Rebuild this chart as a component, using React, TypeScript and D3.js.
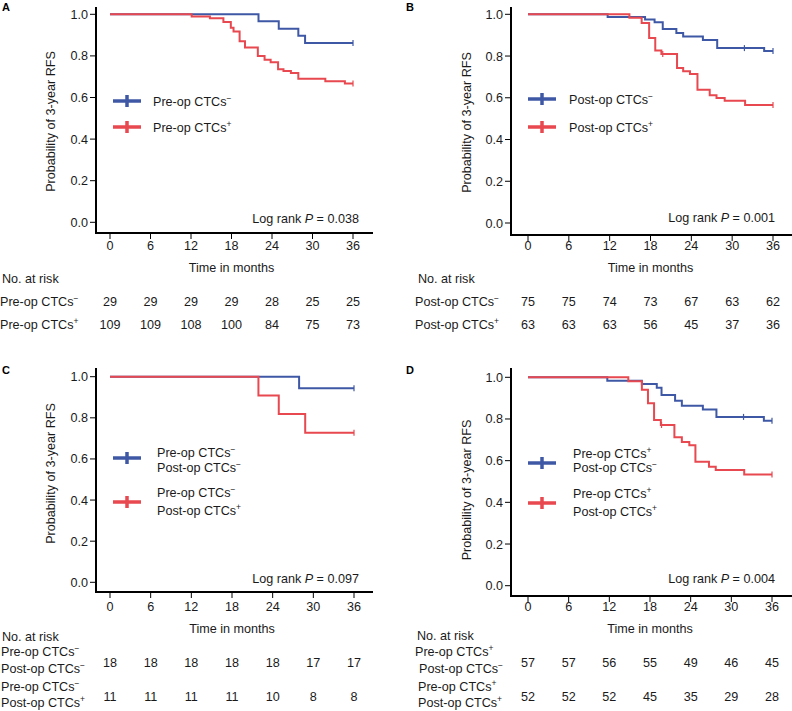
import React from "react";
import * as d3 from "d3";

const months = [0, 6, 12, 18, 24, 30, 36];
const yTicks = [0, 0.2, 0.4, 0.6, 0.8, 1.0];

// Panel A
const aBlueT = [22, 25, 27.9, 28.9];
const aBlueS = [0.966, 0.931, 0.897, 0.862];
const aBlueC = [36];
const aRedT = [12.1, 14.8, 16.8, 17.9, 18.3, 19.2, 20.0, 21.9, 22.9, 23.8, 24.9, 25.7, 26.8, 27.9, 31.9, 34.8];
const aRedS = [0.99, 0.981, 0.963, 0.935, 0.917, 0.87, 0.84, 0.8, 0.782, 0.77, 0.736, 0.728, 0.718, 0.69, 0.678, 0.667];
const aRedC = [36];
const aRiskBlue = [29, 29, 29, 29, 28, 25, 25];
const aRiskRed = [109, 109, 108, 100, 84, 75, 73];

// Panel B
const bBlueT = [11.7, 17.2, 18.6, 19.8, 21.8, 22.8, 25.7, 27.8, 34.7];
const bBlueS = [0.987, 0.975, 0.962, 0.93, 0.91, 0.894, 0.877, 0.838, 0.824];
const bBlueC = [31.8, 36];
const bRedT = [14.9, 16.7, 17.8, 18.7, 19.6, 21.9, 22.8, 23.8, 24.9, 26.7, 27.7, 28.9, 31.9];
const bRedS = [0.984, 0.958, 0.886, 0.826, 0.81, 0.743, 0.727, 0.714, 0.639, 0.612, 0.599, 0.586, 0.565];
const bRedC = [19.8, 36];
const bRiskBlue = [75, 75, 74, 73, 67, 63, 62];
const bRiskRed = [63, 63, 63, 56, 45, 37, 36];

// Panel C
const cBlueT = [27.9];
const cBlueS = [0.944];
const cBlueC = [36];
const cRedT = [21.9, 24.9, 28.8];
const cRedS = [0.909, 0.818, 0.727];
const cRedC = [36];
const cRiskBlue = [18, 18, 18, 18, 18, 17, 17];
const cRiskRed = [11, 11, 11, 11, 10, 8, 8];

// Panel D
const dBlueT = [11.7, 16.8, 19.0, 19.7, 21.7, 22.7, 25.8, 27.8, 34.8];
const dBlueS = [0.984, 0.968, 0.95, 0.915, 0.888, 0.864, 0.846, 0.81, 0.791];
const dBlueC = [31.8, 36];
const dRedT = [14.8, 16.8, 17.7, 18.6, 19.6, 21.6, 22.7, 23.8, 24.7, 26.7, 27.7, 31.9];
const dRedS = [0.981, 0.94, 0.875, 0.795, 0.771, 0.712, 0.69, 0.674, 0.595, 0.571, 0.555, 0.534];
const dRedC = [19.7, 36];
const dRiskBlue = [57, 57, 56, 55, 49, 46, 45];
const dRiskRed = [52, 52, 52, 45, 35, 29, 28];

const BLUE = "#3f58a6";
const RED = "#e8484f";
const FONT = "'Liberation Sans', Arial, Helvetica, sans-serif";
const FS = 12.6;
const TXT = "#1a1a1a";
const MINUS = "\u2212";

type Lbl = { t: string; s: string };

function Sup({ x, y, l, size = FS, anchor = "start" }: { x: number; y: number; l: Lbl; size?: number; anchor?: string }) {
  return (
    <text x={x} y={y} fontSize={size} fontFamily={FONT} textAnchor={anchor as any} fill={TXT}>
      <tspan>{l.t}</tspan>
      <tspan dy={-5} fontSize={size * 0.68}>{l.s}</tspan>
    </text>
  );
}

function stepData(t: number[], s: number[]) {
  const pts: [number, number][] = [[0, 1]];
  t.forEach((ti, i) => pts.push([ti, s[i]]));
  pts.push([36, s.length ? s[s.length - 1] : 1]);
  return pts;
}

function survAt(t: number[], s: number[], x: number) {
  let v = 1;
  t.forEach((ti, i) => {
    if (ti <= x) v = s[i];
  });
  return v;
}

type PanelProps = {
  letter: string;
  lx: number;
  ly: number;
  yAxisX: number;
  x0: number;
  x36: number;
  y1: number;
  y0: number;
  axisTop: number;
  axisBottom: number;
  axisRight: number;
  yLabelX: number;
  yLabelY: number;
  tickLabelY: number;
  timeLabelY: number;
  logX: number;
  logY: number;
  pval: string;
  series: { t: number[]; s: number[]; c: number[]; color: string }[];
  legend: { y: number; lines: Lbl[]; textY: number[] }[];
  legX0: number;
  legX1: number;
  legTextX: number;
};

function Panel(p: PanelProps) {
  const x = d3.scaleLinear().domain([0, 36]).range([p.x0, p.x36]);
  const y = d3.scaleLinear().domain([0, 1]).range([p.y0, p.y1]);
  const line = d3
    .line<[number, number]>()
    .x((d) => x(d[0]))
    .y((d) => y(d[1]))
    .curve(d3.curveStepAfter);
  return (
    <g>
      <text x={p.lx} y={p.ly} fontSize={11} fontWeight="bold" fontFamily={FONT}>
        {p.letter}
      </text>
      {p.series.map((sr, i) => (
        <g key={i}>
          <path d={line(stepData(sr.t, sr.s)) || ""} fill="none" stroke={sr.color} strokeWidth={2} />
          {sr.c.map((ct, j) => (
            <line
              key={j}
              x1={x(ct)}
              x2={x(ct)}
              y1={y(survAt(sr.t, sr.s, ct)) - 3}
              y2={y(survAt(sr.t, sr.s, ct)) + 3}
              stroke={sr.color}
              strokeWidth={1.2}
            />
          ))}
        </g>
      ))}
      <line x1={p.yAxisX} x2={p.yAxisX} y1={p.axisTop} y2={p.axisBottom + 1} stroke="#000" strokeWidth={2} />
      <line x1={p.yAxisX - 1} x2={p.axisRight} y1={p.axisBottom} y2={p.axisBottom} stroke="#000" strokeWidth={2} />
      {yTicks.map((v) => (
        <g key={v}>
          <line x1={p.yAxisX - 6} x2={p.yAxisX} y1={y(v)} y2={y(v)} stroke="#000" strokeWidth={1} />
          <text x={p.yAxisX - 8} y={y(v) + 4.5} fontSize={FS} fontFamily={FONT} textAnchor="end" fill={TXT}>
            {v.toFixed(1)}
          </text>
        </g>
      ))}
      {months.map((m) => (
        <g key={m}>
          <line x1={x(m)} x2={x(m)} y1={p.axisBottom} y2={p.axisBottom + 6} stroke="#000" strokeWidth={1} />
          <text x={x(m)} y={p.tickLabelY} fontSize={FS} fontFamily={FONT} textAnchor="middle" fill={TXT}>
            {m}
          </text>
        </g>
      ))}
      <text
        x={p.yLabelX}
        y={p.yLabelY}
        fontSize={FS}
        fontFamily={FONT}
        textAnchor="middle"
        fill={TXT}
        transform={`rotate(-90 ${p.yLabelX} ${p.yLabelY})`}
        dominantBaseline="middle"
      >
        Probability of 3-year RFS
      </text>
      <text x={(p.x0 + p.x36) / 2} y={p.timeLabelY} fontSize={FS} fontFamily={FONT} textAnchor="middle" fill={TXT}>
        Time in months
      </text>
      <text x={p.logX} y={p.logY} fontSize={FS} fontFamily={FONT} textAnchor="end" fill={TXT}>
        Log rank <tspan fontStyle="italic">P</tspan> = {p.pval}
      </text>
      {p.legend.map((lg, i) => (
        <g key={i}>
          <line x1={p.legX0} x2={p.legX1} y1={lg.y} y2={lg.y} stroke={p.series[i].color} strokeWidth={3.5} />
          <line
            x1={(p.legX0 + p.legX1) / 2}
            x2={(p.legX0 + p.legX1) / 2}
            y1={lg.y - 6}
            y2={lg.y + 6}
            stroke={p.series[i].color}
            strokeWidth={3.5}
          />
          {lg.lines.map((l, k) => (
            <Sup key={k} x={p.legTextX} y={lg.textY[k]} l={l} />
          ))}
        </g>
      ))}
    </g>
  );
}

function RiskRow({ x0, x36, y, vals }: { x0: number; x36: number; y: number; vals: number[] }) {
  const x = d3.scaleLinear().domain([0, 36]).range([x0, x36]);
  return (
    <g>
      {vals.map((v, i) => (
        <text key={i} x={x(months[i])} y={y} fontSize={FS} fontFamily={FONT} textAnchor="middle" fill={TXT}>
          {v}
        </text>
      ))}
    </g>
  );
}

export default function App() {
  const preNeg: Lbl = { t: "Pre-op CTCs", s: MINUS };
  const prePos: Lbl = { t: "Pre-op CTCs", s: "+" };
  const postNeg: Lbl = { t: "Post-op CTCs", s: MINUS };
  const postPos: Lbl = { t: "Post-op CTCs", s: "+" };
  return (
    <svg width={792} height={711} style={{ position: "absolute", left: 0, top: 0, background: "#fff" }}>
      <rect width={792} height={711} fill="#fff" />
      <Panel
        letter="A"
        lx={2}
        ly={11}
        yAxisX={96}
        x0={110}
        x36={353}
        y1={14.3}
        y0={222.3}
        axisTop={7}
        axisBottom={233}
        axisRight={373}
        yLabelX={52}
        yLabelY={121.5}
        tickLabelY={250}
        timeLabelY={272}
        logX={359}
        logY={223}
        pval="0.038"
        series={[
          { t: aBlueT, s: aBlueS, c: aBlueC, color: BLUE },
          { t: aRedT, s: aRedS, c: aRedC, color: RED },
        ]}
        legend={[
          { y: 101, lines: [preNeg], textY: [105.5] },
          { y: 127, lines: [prePos], textY: [131.5] },
        ]}
        legX0={113}
        legX1={141}
        legTextX={153}
      />
      <Panel
        letter="B"
        lx={406}
        ly={11}
        yAxisX={511}
        x0={528}
        x36={773}
        y1={14.3}
        y0={223}
        axisTop={7}
        axisBottom={235}
        axisRight={792}
        yLabelX={468}
        yLabelY={122.5}
        tickLabelY={250}
        timeLabelY={272}
        logX={775}
        logY={222}
        pval="0.001"
        series={[
          { t: bBlueT, s: bBlueS, c: bBlueC, color: BLUE },
          { t: bRedT, s: bRedS, c: bRedC, color: RED },
        ]}
        legend={[
          { y: 99, lines: [postNeg], textY: [103.5] },
          { y: 127, lines: [postPos], textY: [131.5] },
        ]}
        legX0={528}
        legX1={556}
        legTextX={569}
      />
      <Panel
        letter="C"
        lx={2}
        ly={374}
        yAxisX={96}
        x0={110}
        x36={354}
        y1={376.7}
        y0={582.3}
        axisTop={368}
        axisBottom={592}
        axisRight={373}
        yLabelX={52}
        yLabelY={473.5}
        tickLabelY={611}
        timeLabelY={633}
        logX={359}
        logY={583}
        pval="0.097"
        series={[
          { t: cBlueT, s: cBlueS, c: cBlueC, color: BLUE },
          { t: cRedT, s: cRedS, c: cRedC, color: RED },
        ]}
        legend={[
          { y: 458, lines: [preNeg, postNeg], textY: [457, 472] },
          { y: 502, lines: [preNeg, postPos], textY: [497, 515] },
        ]}
        legX0={113}
        legX1={141}
        legTextX={157}
      />
      <Panel
        letter="D"
        lx={406}
        ly={374}
        yAxisX={511}
        x0={528}
        x36={772}
        y1={377.3}
        y0={585.7}
        axisTop={368}
        axisBottom={596}
        axisRight={792}
        yLabelX={468}
        yLabelY={490}
        tickLabelY={611}
        timeLabelY={633}
        logX={775}
        logY={583}
        pval="0.004"
        series={[
          { t: dBlueT, s: dBlueS, c: dBlueC, color: BLUE },
          { t: dRedT, s: dRedS, c: dRedC, color: RED },
        ]}
        legend={[
          { y: 463, lines: [prePos, postNeg], textY: [458, 472] },
          { y: 503, lines: [prePos, postPos], textY: [498, 516] },
        ]}
        legX0={528}
        legX1={556}
        legTextX={573}
      />

      <text x={2} y={283} fontSize={FS} fontFamily={FONT} fill={TXT}>No. at risk</text>
      <Sup x={0} y={306} l={preNeg} />
      <Sup x={0} y={329} l={prePos} />
      <RiskRow x0={110} x36={353} y={306} vals={aRiskBlue} />
      <RiskRow x0={110} x36={353} y={329} vals={aRiskRed} />

      <text x={418} y={283} fontSize={FS} fontFamily={FONT} fill={TXT}>No. at risk</text>
      <Sup x={415} y={306} l={postNeg} />
      <Sup x={415} y={329} l={postPos} />
      <RiskRow x0={528} x36={773} y={306} vals={bRiskBlue} />
      <RiskRow x0={528} x36={773} y={329} vals={bRiskRed} />

      <text x={2} y={641} fontSize={FS} fontFamily={FONT} fill={TXT}>No. at risk</text>
      <Sup x={1} y={656} l={preNeg} />
      <Sup x={1} y={673} l={postNeg} />
      <Sup x={1} y={691} l={preNeg} />
      <Sup x={1} y={707} l={postPos} />
      <RiskRow x0={110} x36={354} y={667} vals={cRiskBlue} />
      <RiskRow x0={110} x36={354} y={701} vals={cRiskRed} />

      <text x={417} y={640} fontSize={FS} fontFamily={FONT} fill={TXT}>No. at risk</text>
      <Sup x={415} y={656} l={prePos} />
      <Sup x={419} y={673} l={postNeg} />
      <Sup x={418} y={691} l={prePos} />
      <Sup x={418} y={707} l={postPos} />
      <RiskRow x0={528} x36={772} y={667} vals={dRiskBlue} />
      <RiskRow x0={528} x36={772} y={701} vals={dRiskRed} />
    </svg>
  );
}
